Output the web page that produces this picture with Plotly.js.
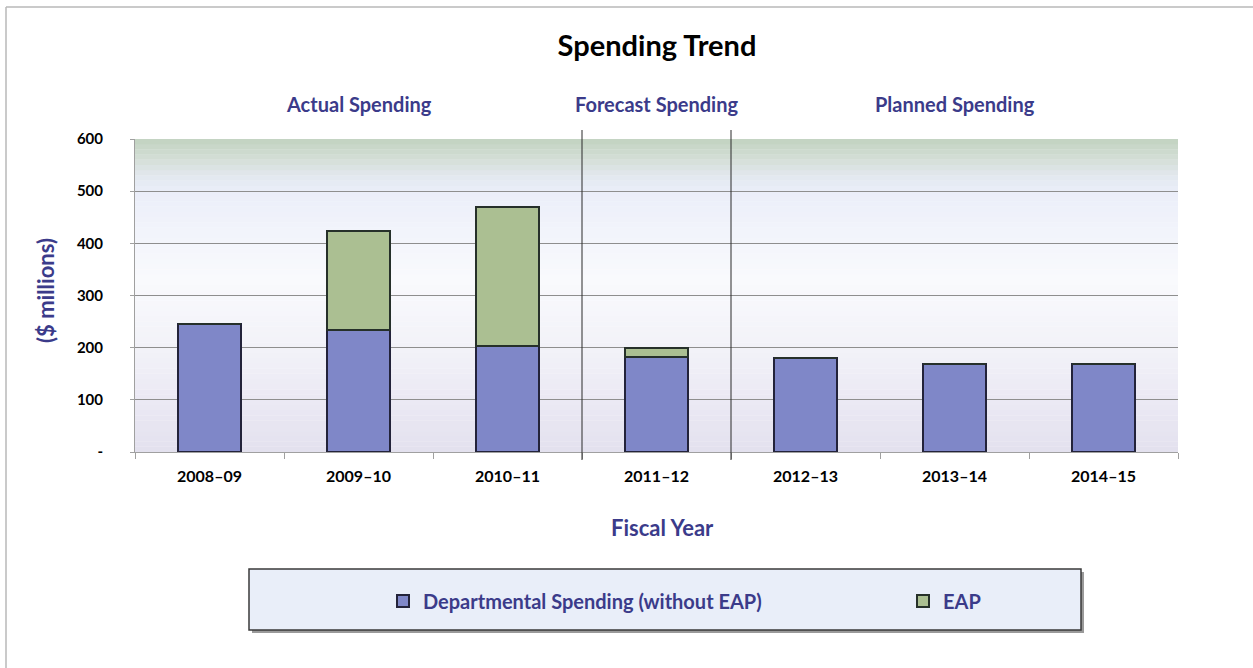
<!DOCTYPE html>
<html>
<head>
<meta charset="utf-8">
<script src="https://cdn.plot.ly/plotly-3.0.1.min.js"></script>
<style>
html,body{margin:0;padding:0;background:#fff;}
#chart{width:1253px;height:668px;}
</style>
</head>
<body>
<div id="chart"></div>
<script>
// ---- data ----
var fiscalYears = ['2008–09','2009–10','2010–11','2011–12','2012–13','2013–14','2014–15'];
var departmentalSpending = [245, 233, 204, 182, 180, 169, 169];
var eapSpending = [0, 191, 265, 17, 0, 0, 0];
var yTickValues = [0, 100, 200, 300, 400, 500, 600];
var yTickLabels = ['-', '100', '200', '300', '400', '500', '600'];
var sectionLabels = ['Actual Spending', 'Forecast Spending', 'Planned Spending'];
var sectionCenters = ['2009–10', '2011–12', '2013–14'];
var seriesNames = ['Departmental Spending (without EAP)', 'EAP'];

var FONT = 'Lato, "Open Sans", sans-serif';
var PURPLE = '#3b3b8a';

// plot area geometry (pixels)
var L = 135, R = 75, T = 139, B = 216, W = 1253, H = 668;
var PW = W - L - R, PH = H - T - B;
function px(p){ return (p - L) / PW; }
function py(q){ return (H - B - q) / PH; }

var traces = [
  {
    type: 'bar', name: seriesNames[0], x: fiscalYears, y: departmentalSpending,
    width: 0.42, legend: 'legend',
    marker: {color: '#7f87c8', line: {color: '#23233a', width: 2}},
    hoverinfo: 'x+y+name'
  },
  {
    type: 'bar', name: seriesNames[1], x: fiscalYears, y: eapSpending,
    width: 0.42, legend: 'legend2',
    marker: {color: '#abbf92', line: {color: '#26302a', width: 2}},
    hoverinfo: 'x+y+name'
  }
];

// background gradient bands
function hexToRgb(h){ return [parseInt(h.substr(1,2),16), parseInt(h.substr(3,2),16), parseInt(h.substr(5,2),16)]; }
var stops = [[0,'#e3e1ee'],[100,'#ebe9f4'],[200,'#f2f2f8'],[330,'#f9fafd'],[420,'#f2f4fb'],[500,'#eaeef9'],[530,'#e2e8ee'],[565,'#d2ddd4'],[600,'#c2d2c0']];
function colorAt(v){
  for (var i=0;i<stops.length-1;i++){
    if (v>=stops[i][0] && v<=stops[i+1][0]){
      var t=(v-stops[i][0])/(stops[i+1][0]-stops[i][0]);
      var a=hexToRgb(stops[i][1]), b=hexToRgb(stops[i+1][1]);
      return 'rgb('+Math.round(a[0]+(b[0]-a[0])*t)+','+Math.round(a[1]+(b[1]-a[1])*t)+','+Math.round(a[2]+(b[2]-a[2])*t)+')';
    }
  }
  return stops[stops.length-1][1];
}
var shapes = [];
var nb = 60;
for (var i=0;i<nb;i++){
  var y0 = 600*i/nb, y1 = 600*(i+1)/nb;
  shapes.push({type:'rect', layer:'below', xref:'paper', yref:'y', x0:0, x1:1, y0:y0, y1:y1+0.5,
    fillcolor: colorAt((y0+y1)/2), line:{width:0}});
}
// section dividers
[2.5, 3.5].forEach(function(xv){
  shapes.push({type:'line', xref:'x', yref:'paper', x0:xv, x1:xv, y0:py(460), y1:py(130),
    line:{color:'#2a2a2a', width:1}});
});
// outer frame (top + left)
shapes.push({type:'line', xref:'paper', yref:'paper', x0:px(6), x1:px(1253), y0:py(7), y1:py(7), line:{color:'#b8b8b8', width:1.5}});
shapes.push({type:'line', xref:'paper', yref:'paper', x0:px(6), x1:px(6), y0:py(7), y1:py(668), line:{color:'#b8b8b8', width:1.5}});
// legend box shadow + box
shapes.push({type:'rect', xref:'paper', yref:'paper', x0:px(252), x1:px(1084), y0:py(633), y1:py(572),
  fillcolor:'#9a9a9a', line:{width:0}});
shapes.push({type:'rect', xref:'paper', yref:'paper', x0:px(249), x1:px(1081), y0:py(630), y1:py(569),
  fillcolor:'#e9eef9', line:{color:'#3a3a3a', width:1.5}});

var annotations = [];
for (var k=0;k<sectionLabels.length;k++){
  annotations.push({text:'<b>'+sectionLabels[k]+'</b>', xref:'x', yref:'paper', x:sectionCenters[k], y:py(104),
    showarrow:false, font:{family:FONT, size:20, color:PURPLE}, xanchor:'center', yanchor:'middle'});
}
annotations.push({text:'<b>($ millions)</b>', xref:'paper', yref:'paper', x:px(45), y:py(291), textangle:-90,
  showarrow:false, font:{family:FONT, size:22, color:PURPLE}, xanchor:'center', yanchor:'middle'});
annotations.push({text:'<b>Fiscal Year</b>', xref:'paper', yref:'paper', x:px(662), y:py(527),
  showarrow:false, font:{family:FONT, size:22, color:PURPLE}, xanchor:'center', yanchor:'middle'});

var legendCommon = {
  orientation:'h', xanchor:'left', yanchor:'middle',
  bgcolor:'rgba(0,0,0,0)', borderwidth:0,
  font:{family:FONT, size:20, color:PURPLE, weight:'bold'}
};

var layout = {
  width: W, height: H,
  margin: {l:L, r:R, t:T, b:B, pad:0},
  paper_bgcolor: '#ffffff',
  plot_bgcolor: 'rgba(0,0,0,0)',
  barmode: 'stack',
  title: {text:'<b>Spending Trend</b>', x:657/W, xref:'container', y:1-46/H, yref:'container',
    xanchor:'center', yanchor:'middle', font:{family:FONT, size:29, color:'#000'}},
  xaxis: {
    type:'category', categoryorder:'array', categoryarray: fiscalYears,
    showgrid:false, showline:true, linecolor:'#a0a0a0', linewidth:1,
    ticks:'outside', tickson:'boundaries', ticklen:6, tickcolor:'#a0a0a0',
    ticklabelstandoff: 10,
    tickfont:{family:FONT, size:16, color:'#000', weight:'bold'}
  },
  yaxis: {
    range:[0,600], tickvals:yTickValues, ticktext:yTickLabels,
    showgrid:true, gridcolor:'#8e8e8e', gridwidth:1, zeroline:false,
    showline:true, linecolor:'#a0a0a0', linewidth:1,
    ticks:'outside', ticklen:4, tickcolor:'#a0a0a0',
    ticklabelstandoff: 24,
    tickfont:{family:FONT, size:15, color:'#000', weight:'bold'}
  },
  showlegend: true,
  legend: Object.assign({}, legendCommon, {x:px(383), y:py(601)}),
  legend2: Object.assign({}, legendCommon, {x:px(903), y:py(601)}),
  shapes: shapes,
  annotations: annotations,
  hovermode: 'closest'
};

Plotly.newPlot('chart', traces, layout, {displayModeBar:false});
</script>
</body>
</html>
